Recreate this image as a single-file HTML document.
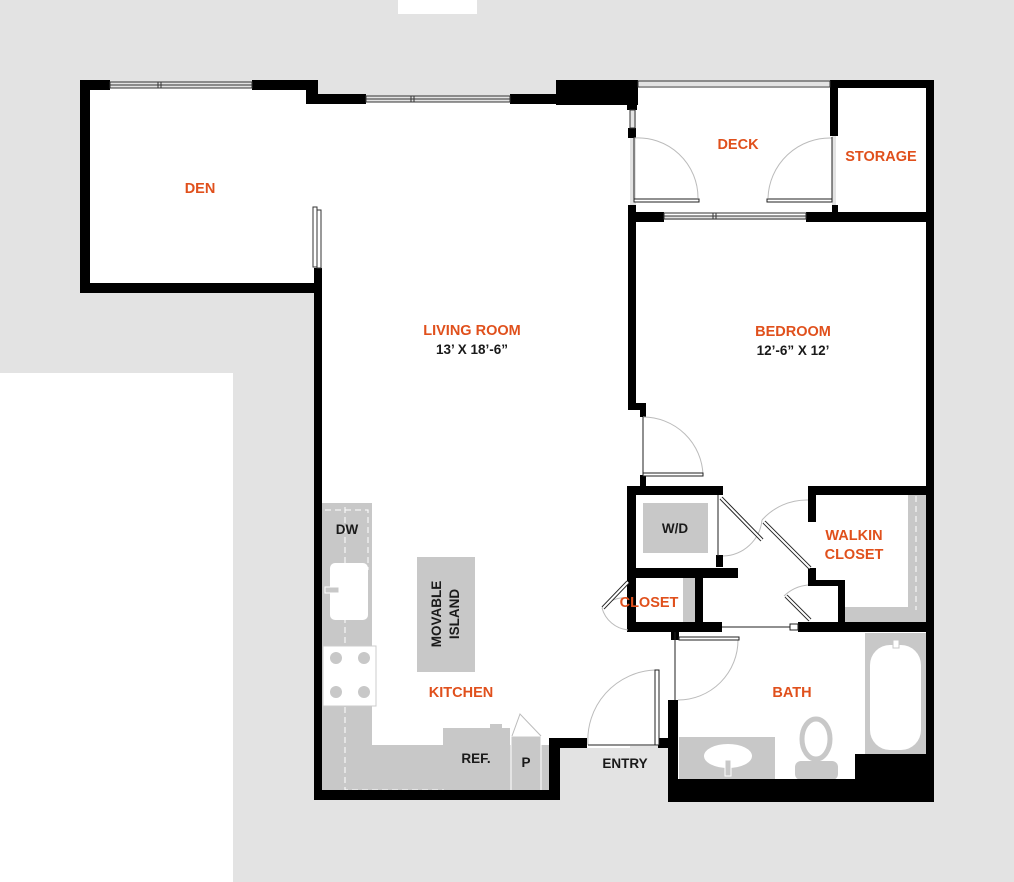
<!DOCTYPE html>
<html><head><meta charset="utf-8"><style>
html,body{margin:0;padding:0;background:#e3e3e3}
svg{display:block}
text{font-family:"Liberation Sans",sans-serif;font-weight:bold}
.o{fill:#e0501c;font-size:14.5px}
.k{fill:#1a1a1a;font-size:13.5px}
</style></head><body>
<svg width="1014" height="882" viewBox="0 0 1014 882" xmlns="http://www.w3.org/2000/svg">
<rect width="1014" height="882" fill="#e3e3e3"/>
<rect x="398" y="0" width="79" height="14" fill="#fff"/>
<rect x="0" y="373" width="233" height="509" fill="#fff"/>
<g fill="#fff">
<rect x="88" y="88" width="230" height="198"/>
<rect x="318" y="102" width="312" height="692"/>
<rect x="306" y="88" width="12" height="16"/>
<rect x="628" y="405" width="14" height="85"/>
<rect x="628" y="628" width="50" height="118"/>
<rect x="636" y="86" width="196" height="130"/>
<rect x="836" y="88" width="92" height="128"/>
<rect x="634" y="220" width="294" height="410"/>
<rect x="676" y="630" width="252" height="152"/>
</g>
<rect x="560" y="748" width="108" height="54" fill="#e3e3e3"/>
<g fill="#c8c8c8">
<rect x="322" y="503" width="50" height="290"/>
<rect x="322" y="745" width="228" height="48"/>
<rect x="443" y="728" width="67" height="65"/>
<rect x="511" y="736" width="30" height="57" stroke="#fff" stroke-width="1"/>
<rect x="417" y="557" width="58" height="115"/>
<rect x="643" y="503" width="65" height="50"/>
<rect x="683" y="578" width="12" height="44"/>
<rect x="908" y="492" width="18" height="130"/>
<rect x="845" y="607" width="81" height="16"/>
<rect x="865" y="633" width="61" height="122"/>
<rect x="679" y="737" width="96" height="42"/>
</g>
<rect x="330" y="563" width="38" height="57" rx="5" fill="#fff"/>
<rect x="325" y="587" width="14" height="6" fill="#c8c8c8" stroke="#fff"/>
<rect x="323" y="646" width="53" height="60" fill="#fff" stroke="#ccc"/>
<g fill="#c8c8c8"><circle cx="336" cy="658" r="6"/><circle cx="364" cy="658" r="6"/><circle cx="336" cy="692" r="6"/><circle cx="364" cy="692" r="6"/></g>
<path d="M345 497 V790 H444" fill="none" stroke="#fff" stroke-dasharray="6,4" stroke-width="1"/>
<path d="M325 510 H368 V570" fill="none" stroke="#fff" stroke-dasharray="6,4"/>
<line x1="916" y1="496" x2="916" y2="610" stroke="#fff" stroke-dasharray="6,4"/>
<rect x="490" y="724" width="12" height="4" fill="#c8c8c8"/>
<rect x="870" y="645" width="51" height="105" rx="20" fill="#fff"/>
<rect x="893" y="640" width="6" height="8" fill="#fff" stroke="#c8c8c8"/>
<ellipse cx="728" cy="756" rx="24" ry="12" fill="#fff"/>
<rect x="725" y="760" width="6" height="16" fill="#c8c8c8" stroke="#fff"/>
<ellipse cx="816" cy="739" rx="14" ry="20" fill="#fff" stroke="#c8c8c8" stroke-width="5"/>
<rect x="795" y="761" width="43" height="19" rx="6" fill="#c8c8c8"/>
<g fill="#000">
<rect x="80" y="80" width="30" height="10"/>
<rect x="252" y="80" width="66" height="10"/>
<rect x="306" y="80" width="12" height="24"/>
<rect x="306" y="94" width="60" height="10"/>
<rect x="510" y="94" width="128" height="10"/>
<rect x="556" y="80" width="82" height="25"/>
<rect x="627" y="100" width="10" height="10"/>
<rect x="628" y="128" width="8" height="10"/>
<rect x="80" y="80" width="10" height="212"/>
<rect x="80" y="283" width="242" height="10"/>
<rect x="314" y="268" width="8" height="532"/>
<rect x="314" y="790" width="246" height="10"/>
<rect x="549" y="738" width="11" height="62"/>
<rect x="549" y="738" width="38" height="10"/>
<rect x="658" y="738" width="20" height="10"/>
<rect x="668" y="700" width="10" height="102"/>
<rect x="668" y="779" width="266" height="23"/>
<rect x="855" y="754" width="79" height="48"/>
<rect x="926" y="80" width="8" height="722"/>
<rect x="830" y="80" width="104" height="8"/>
<rect x="830" y="80" width="8" height="56"/>
<rect x="832" y="205" width="6" height="10"/>
<rect x="628" y="205" width="8" height="205"/>
<rect x="628" y="212" width="36" height="10"/>
<rect x="806" y="212" width="128" height="10"/>
<rect x="628" y="403" width="18" height="7"/>
<rect x="640" y="403" width="6" height="14"/>
<rect x="640" y="475" width="6" height="12"/>
<rect x="627" y="486" width="96" height="9"/>
<rect x="627" y="486" width="9" height="146"/>
<rect x="716" y="555" width="7" height="12"/>
<rect x="627" y="568" width="111" height="10"/>
<rect x="695" y="575" width="8" height="55"/>
<rect x="627" y="622" width="95" height="10"/>
<rect x="671" y="630" width="8" height="10"/>
<rect x="808" y="486" width="126" height="9"/>
<rect x="808" y="486" width="8" height="36"/>
<rect x="808" y="568" width="8" height="18"/>
<rect x="808" y="580" width="37" height="6"/>
<rect x="838" y="580" width="7" height="45"/>
<rect x="798" y="622" width="136" height="10"/>
</g>
<g fill="none" stroke="#333" stroke-width="1">
<rect x="110" y="82" width="142" height="6"/><line x1="110" y1="85" x2="252" y2="85"/><rect x="158" y="82" width="3" height="6"/>
<rect x="366" y="96" width="144" height="6"/><line x1="366" y1="99" x2="510" y2="99"/><rect x="411" y="96" width="3" height="6"/>
<rect x="664" y="213" width="142" height="6"/><line x1="664" y1="216" x2="806" y2="216"/><rect x="713" y="213" width="3" height="6"/>
<rect x="638" y="81" width="192" height="6"/>
<rect x="630" y="110" width="5" height="18"/>
<rect x="313" y="207" width="4" height="60"/><rect x="317" y="210" width="4" height="58"/>
</g>
<g fill="none" stroke="#bbb" stroke-width="1">
<path d="M634 138 A60 60 0 0 1 698 198"/>
<path d="M832 138 A62 62 0 0 0 768 198"/>
<path d="M643 417 A60 60 0 0 1 703 475"/>
<path d="M723 556 A40 40 0 0 0 762 520"/>
<path d="M808 500 A60 60 0 0 0 762 520"/>
<path d="M808 585 A40 40 0 0 0 784 596"/>
<path d="M628 598 A30 30 0 0 0 602 608"/>
<path d="M628 630 A30 30 0 0 1 602 608"/>
<path d="M588 745 A70 70 0 0 1 655 670"/>
<path d="M678 700 A60 60 0 0 0 738 640"/>
<path d="M512 736 L520 714 L541 736"/>
</g>
<g fill="#fff" stroke="#222" stroke-width="1">
<rect x="634" y="199" width="65" height="3"/>
<rect x="767" y="199" width="65" height="3"/>
<rect x="643" y="473" width="60" height="3"/>
<rect x="655" y="670" width="4" height="75"/>
<rect x="679" y="637" width="60" height="3"/>
<line x1="588" y1="745" x2="658" y2="745"/>
</g>
<g stroke="#222" stroke-width="4"><line x1="721" y1="498" x2="762" y2="540"/><line x1="764" y1="522" x2="810" y2="568"/><line x1="786" y1="596" x2="810" y2="620"/><line x1="603" y1="608" x2="628" y2="582"/></g>
<g stroke="#fff" stroke-width="2"><line x1="721" y1="498" x2="762" y2="540"/><line x1="764" y1="522" x2="810" y2="568"/><line x1="786" y1="596" x2="810" y2="620"/><line x1="603" y1="608" x2="628" y2="582"/></g>
<g stroke="#222" stroke-width="1"><line x1="718" y1="495" x2="718" y2="556"/><line x1="634" y1="137" x2="634" y2="200"/><line x1="832" y1="137" x2="832" y2="200"/><line x1="643" y1="417" x2="643" y2="474"/><line x1="675" y1="632" x2="675" y2="700"/><line x1="722" y1="627" x2="792" y2="627"/></g>
<rect x="790" y="624" width="8" height="6" fill="#fff" stroke="#222"/>
<g text-anchor="middle">
<text class="o" x="200" y="193">DEN</text>
<text class="o" x="738" y="149">DECK</text>
<text class="o" x="881" y="161">STORAGE</text>
<text class="o" x="472" y="335">LIVING ROOM</text>
<text class="k" x="472" y="354">13’ X 18’-6”</text>
<text class="o" x="793" y="336">BEDROOM</text>
<text class="k" x="793" y="355">12’-6” X 12’</text>
<text class="k" x="675" y="533">W/D</text>
<text class="o" x="854" y="540">WALKIN</text>
<text class="o" x="854" y="559">CLOSET</text>
<text class="o" x="649" y="607">CLOSET</text>
<text class="o" x="461" y="697">KITCHEN</text>
<text class="o" x="792" y="697">BATH</text>
<text class="k" x="347" y="534">DW</text>
<text class="k" x="476" y="763">REF.</text>
<text class="k" x="526" y="767">P</text>
<text class="k" x="625" y="768">ENTRY</text>
<text class="k" transform="translate(441,614) rotate(-90)">MOVABLE</text>
<text class="k" transform="translate(459,614) rotate(-90)">ISLAND</text>
</g>
</svg>
</body></html>
